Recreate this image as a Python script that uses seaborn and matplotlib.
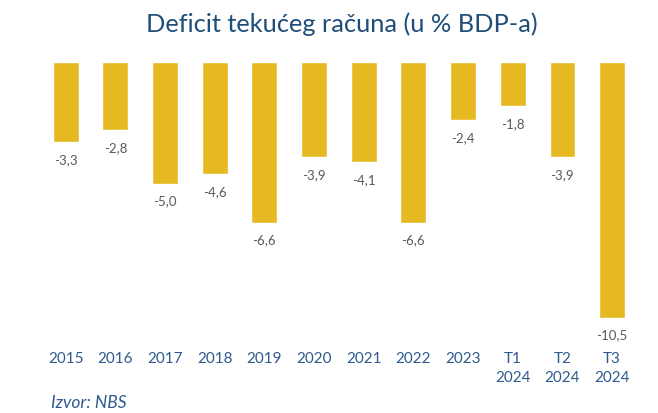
# Deficit tekuceg racuna - bar chart
import matplotlib
matplotlib.use('Agg')
import matplotlib.pyplot as plt
import pandas as pd
import seaborn as sns

# Data
periods = ['2015', '2016', '2017', '2018', '2019', '2020', '2021', '2022', '2023',
           'T1\n2024', 'T2\n2024', 'T3\n2024']
deficit = [-3.3, -2.8, -5.0, -4.6, -6.6, -3.9, -4.1, -6.6, -2.4, -1.8, -3.9, -10.5]

df = pd.DataFrame({'period': periods, 'value': deficit})

sns.set_style('white')
plt.rcParams['font.family'] = ['Lato', 'DejaVu Sans']

fig = plt.figure(figsize=(6.58, 4.14), dpi=100)
ax = fig.add_axes([0.062, 0.21, 0.906, 0.638])

sns.barplot(data=df, x='period', y='value', color='#E6B922', saturation=1,
            width=0.52, ax=ax)

# value labels under each bar
for i, v in enumerate(deficit):
    ax.text(i, v - 0.45, f'{v:.1f}'.replace('.', ','), ha='center', va='top',
            fontsize=9.5, color='#595959')

ax.set_ylim(-10.85, 0)
ax.set_xlim(-0.5, len(periods) - 0.5)
ax.set_yticks([])
ax.set_xlabel('')
ax.set_ylabel('')
ax.tick_params(axis='x', length=0, pad=18, labelsize=11, labelcolor='#2E5A8E')
for lbl in ax.get_xticklabels():
    lbl.set_linespacing(1.45)
for s in ax.spines.values():
    s.set_visible(False)

fig.text(0.52, 0.942, 'Deficit tekućeg računa (u % BDP-a)', ha='center', va='center',
         fontsize=18.3, color='#1F4E79')
fig.text(0.078, 0.008, 'Izvor: NBS', ha='left', va='bottom', fontsize=12.5,
         style='italic', color='#2E5A8E')

fig.savefig('out.png', dpi=100)
